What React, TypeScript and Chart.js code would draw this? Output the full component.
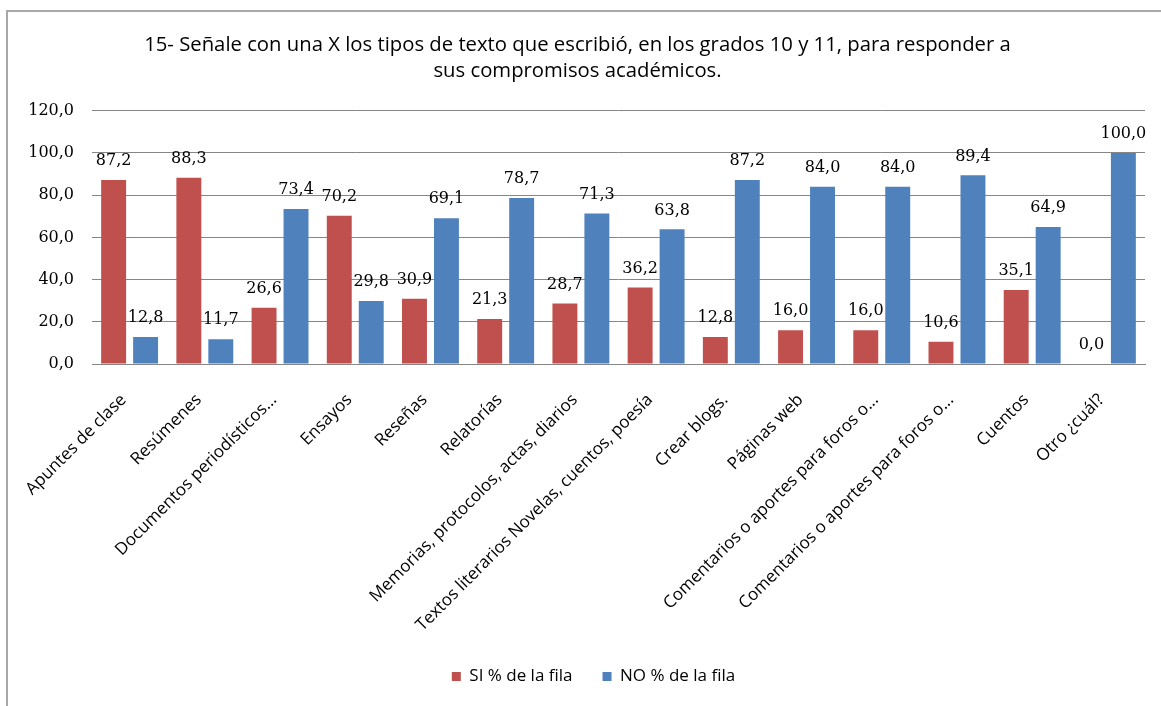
import React, { useEffect, useRef } from "react";
import { Chart, registerables } from "chart.js";

Chart.register(...registerables);

const titleLines = [
  "15- Señale con una X los tipos de texto que escribió, en los grados 10 y 11, para responder a",
  "sus compromisos académicos.",
];

const categories = [
  "Apuntes de clase",
  "Resúmenes",
  "Documentos periodísticos...",
  "Ensayos",
  "Reseñas",
  "Relatorías",
  "Memorias, protocolos, actas, diarios",
  "Textos literarios Novelas, cuentos, poesía",
  "Crear blogs.",
  "Páginas web",
  "Comentarios o aportes para foros o...",
  "Comentarios o aportes para foros o...",
  "Cuentos",
  "Otro ¿cuál?",
];

const siValues = [87.2, 88.3, 26.6, 70.2, 30.9, 21.3, 28.7, 36.2, 12.8, 16.0, 16.0, 10.6, 35.1, 0.0];
const noValues = [12.8, 11.7, 73.4, 29.8, 69.1, 78.7, 71.3, 63.8, 87.2, 84.0, 84.0, 89.4, 64.9, 100.0];

const seriesNames = ["SI % de la fila", "NO % de la fila"];
const seriesColors = ["#C0504D", "#4F81BD"];

const yTicks = [0, 20, 40, 60, 80, 100, 120];

const fmt = (v: number) => v.toFixed(1).replace(".", ",");

const valueLabelPlugin = {
  id: "valueLabels",
  afterDatasetsDraw(chart: any) {
    const ctx = chart.ctx;
    ctx.save();
    ctx.font = "16px 'DejaVu Serif'";
    ctx.fillStyle = "#000";
    ctx.textAlign = "center";
    ctx.textBaseline = "middle";
    chart.data.datasets.forEach((ds: any, di: number) => {
      const meta = chart.getDatasetMeta(di);
      meta.data.forEach((el: any, i: number) => {
        ctx.fillText(fmt(ds.data[i]), el.x, el.y - 19);
      });
    });
    ctx.restore();
  },
};

// nudges the legend and title blocks horizontally to match the reference centring
const blockShiftPlugin = {
  id: "blockShift",
  afterLayout(chart: any) {
    if (chart.legend) {
      chart.legend.left += 21;
      chart.legend.right += 21;
    }
    if (chart.titleBlock) {
      chart.titleBlock.left += 5;
      chart.titleBlock.right += 5;
    }
  },
};

export default function App() {
  const ref = useRef<HTMLCanvasElement | null>(null);

  useEffect(() => {
    if (!ref.current) return;
    const chart = new Chart(ref.current, {
      type: "bar",
      data: {
        labels: categories,
        datasets: [
          {
            label: seriesNames[0],
            data: siValues,
            backgroundColor: seriesColors[0],
            categoryPercentage: 0.85,
            barPercentage: 0.78,
          },
          {
            label: seriesNames[1],
            data: noValues,
            backgroundColor: seriesColors[1],
            categoryPercentage: 0.85,
            barPercentage: 0.78,
          },
        ],
      },
      options: {
        responsive: false,
        animation: false,
        layout: { padding: { left: 0, right: 16, top: 0, bottom: 11 } },
        plugins: {
          title: {
            display: true,
            text: titleLines,
            color: "#000",
            font: { family: "'Open Sans'", size: 20.3, weight: "normal", lineHeight: 1.3 },
            padding: { top: 32, bottom: 26 },
          },
          legend: {
            display: true,
            position: "bottom",
            labels: {
              boxWidth: 9,
              boxHeight: 9,
              color: "#000",
              padding: 30,
              font: { family: "'Open Sans'", size: 17 },
            },
          },
          tooltip: { enabled: false },
        },
        scales: {
          x: {
            grid: { display: false, drawTicks: false },
            border: { display: true, color: "#868686", width: 1 },
            ticks: {
              autoSkip: false,
              minRotation: 45,
              maxRotation: 45,
              padding: 26,
              labelOffset: -6,
              color: "#000",
              font: { family: "'Open Sans'", size: 17 },
            },
            afterFit: (s: any) => {
              s.height = 274;
            },
          },
          y: {
            min: 0,
            max: 120,
            grid: { color: "#868686", drawTicks: false, lineWidth: 1 },
            border: { display: false },
            ticks: {
              padding: 18,
              color: "#000",
              font: { family: "'DejaVu Serif'", size: 16 },
              callback: (v: any) => fmt(Number(v)),
            },
            afterBuildTicks: (s: any) => {
              s.ticks = yTicks.map((v) => ({ value: v }));
            },
            afterFit: (s: any) => {
              s.width = 92;
            },
          },
        },
      },
      plugins: [valueLabelPlugin, blockShiftPlugin],
    });
    return () => chart.destroy();
  }, []);

  return (
    <div style={{ position: "fixed", left: 0, top: 0, width: 1161, height: 706, background: "#fff", overflow: "hidden" }}>
      <div
        style={{
          position: "absolute",
          left: 6,
          top: 10,
          width: 1170,
          height: 710,
          borderLeft: "2px solid #a8a8a8",
          borderTop: "2px solid #a8a8a8",
          boxSizing: "border-box",
        }}
      />
      <canvas ref={ref} width={1161} height={706} style={{ position: "absolute", left: 0, top: 0 }} />
    </div>
  );
}
